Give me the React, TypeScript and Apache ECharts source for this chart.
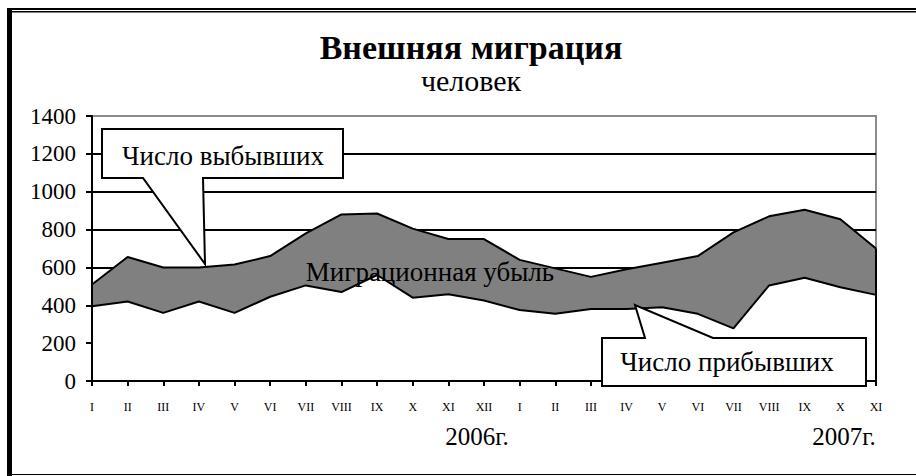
import React, { useEffect, useRef } from 'react';
import * as echarts from 'echarts';

const months = ['I', 'II', 'III', 'IV', 'V', 'VI', 'VII', 'VIII', 'IX', 'X', 'XI', 'XII',
  'I', 'II', 'III', 'IV', 'V', 'VI', 'VII', 'VIII', 'IX', 'X', 'XI'];
const departed = [510, 655, 600, 600, 615, 660, 780, 880, 885, 805, 750, 750,
  640, 595, 550, 590, 625, 660, 785, 870, 905, 855, 700];
const arrived = [395, 420, 360, 420, 360, 445, 505, 470, 560, 440, 458, 425,
  375, 355, 380, 380, 390, 355, 278, 505, 545, 495, 455];
const yMin = 0;
const yMax = 1400;
const yStep = 200;
const titleText = 'Внешняя миграция';
const subtitleText = 'человек';
const seriesNames = ['Число выбывших', 'Число прибывших'];
const areaLabel = 'Миграционная убыль';
const yearLabels = ['2006г.', '2007г.'];

const FONT = 'Liberation Serif';

export default function App() {
  const ref = useRef<HTMLDivElement>(null);
  useEffect(() => {
    const chart = echarts.init(ref.current!, null, { renderer: 'svg' });
    const last = departed.length - 1;
    chart.setOption({
      animation: false,
      backgroundColor: '#fff',
      grid: {
        left: 92, right: 40, top: 116, bottom: 95,
        show: true, borderColor: '#8c8c8c', borderWidth: 2, backgroundColor: 'transparent',
      },
      xAxis: {
        type: 'category', data: months, boundaryGap: false, z: 10,
        axisLine: { lineStyle: { color: '#000', width: 2 } },
        axisTick: { show: true, interval: 0, length: 5, lineStyle: { color: '#000', width: 2 } },
        axisLabel: { interval: 0, color: '#000', fontFamily: FONT, fontSize: 12, margin: 20 },
        splitLine: { show: false },
      },
      yAxis: [
        {
          type: 'value', min: yMin, max: yMax, interval: yStep,
          axisLine: { show: false }, axisTick: { show: false }, axisLabel: { show: false },
          splitLine: { show: true, showMaxLine: false, lineStyle: { color: '#000', width: 2 } },
        },
        {
          type: 'value', position: 'left', min: yMin, max: yMax, interval: yStep, z: 10,
          axisLine: { show: true, lineStyle: { color: '#000', width: 2 } },
          axisTick: { show: true, length: 6, lineStyle: { color: '#000', width: 2 } },
          axisLabel: {
            color: '#000', fontFamily: FONT, fontSize: 23, margin: 16,
            formatter: (v: number) => String(v),
          },
          splitLine: { show: false },
        },
      ],
      series: [
        {
          name: seriesNames[0], type: 'line', data: departed, symbol: 'none', z: 2,
          lineStyle: { color: '#000', width: 2 },
          areaStyle: { color: '#808080', opacity: 1 },
          markLine: {
            silent: true, symbol: 'none', label: { show: false },
            lineStyle: { color: '#000', width: 2, type: 'solid' },
            data: [[{ coord: [last, 0] }, { coord: [last, departed[last]] }]],
          },
        },
        {
          name: seriesNames[1], type: 'line', data: arrived, symbol: 'none', z: 3,
          lineStyle: { color: '#000', width: 2 },
          areaStyle: { color: '#fff', opacity: 1 },
        },
      ],
      graphic: [
        { type: 'rect', z: 100, shape: { x: 7, y: 8, width: 5, height: 468 }, style: { fill: '#000' } },
        { type: 'rect', z: 100, shape: { x: 7, y: 8, width: 909, height: 2 }, style: { fill: '#000' } },
        { type: 'rect', z: 100, shape: { x: 12, y: 11, width: 904, height: 1.5 }, style: { fill: '#000' } },
        { type: 'rect', z: 100, shape: { x: 12, y: 474, width: 904, height: 1 }, style: { fill: '#000' } },
        {
          type: 'text', z: 100, x: 471, y: 47,
          style: { text: titleText, fill: '#000', font: `bold 34px "${FONT}"`, textAlign: 'center', textVerticalAlign: 'middle' },
        },
        {
          type: 'text', z: 100, x: 471, y: 80,
          style: { text: subtitleText, fill: '#000', font: `30px "${FONT}"`, textAlign: 'center', textVerticalAlign: 'middle' },
        },
        {
          type: 'text', z: 100, x: 430, y: 272,
          style: { text: areaLabel, fill: '#000', font: `27px "${FONT}"`, textAlign: 'center', textVerticalAlign: 'middle' },
        },
        {
          type: 'polygon', z: 100,
          shape: { points: [[102, 129], [343, 129], [343, 178], [203, 178], [205, 264], [143, 178], [102, 178]] },
          style: { fill: '#fff', stroke: '#000', lineWidth: 2 },
        },
        {
          type: 'text', z: 101, x: 223, y: 156,
          style: { text: seriesNames[0], fill: '#000', font: `27px "${FONT}"`, textAlign: 'center', textVerticalAlign: 'middle' },
        },
        {
          type: 'polygon', z: 100,
          shape: { points: [[602, 338], [645, 338], [635, 305], [713, 338], [866, 338], [866, 386], [602, 386]] },
          style: { fill: '#fff', stroke: '#000', lineWidth: 2 },
        },
        {
          type: 'text', z: 101, x: 727, y: 362,
          style: { text: seriesNames[1], fill: '#000', font: `27px "${FONT}"`, textAlign: 'center', textVerticalAlign: 'middle' },
        },
        {
          type: 'text', z: 100, x: 477, y: 436,
          style: { text: yearLabels[0], fill: '#000', font: `25px "${FONT}"`, textAlign: 'center', textVerticalAlign: 'middle' },
        },
        {
          type: 'text', z: 100, x: 844, y: 436,
          style: { text: yearLabels[1], fill: '#000', font: `25px "${FONT}"`, textAlign: 'center', textVerticalAlign: 'middle' },
        },
      ],
    });
    return () => chart.dispose();
  }, []);
  return <div ref={ref} style={{ position: 'fixed', left: 0, top: 0, width: 916, height: 476 }} />;
}
